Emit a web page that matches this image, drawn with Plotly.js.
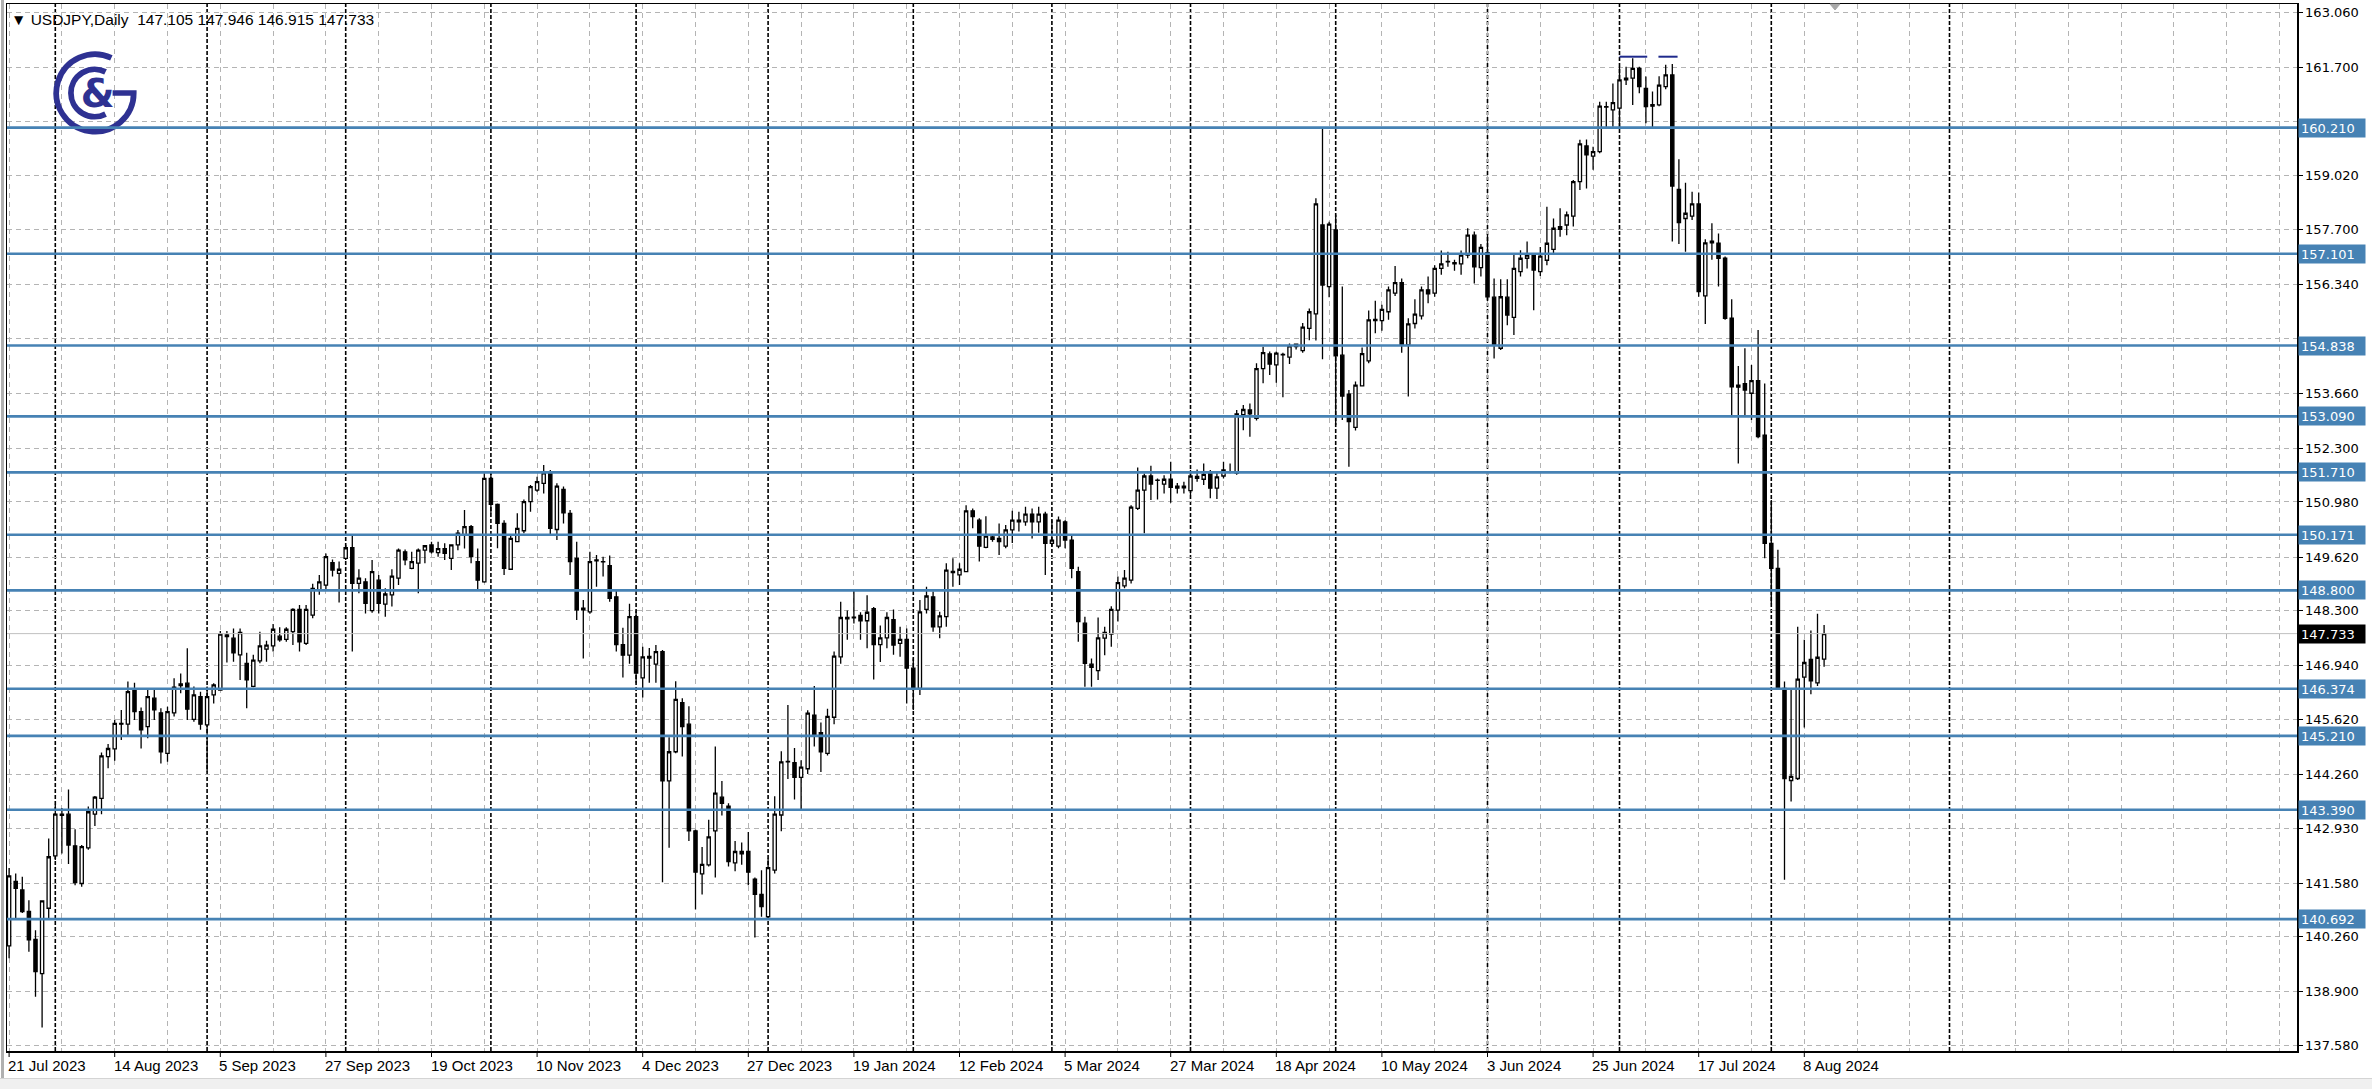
<!DOCTYPE html>
<html><head><meta charset="utf-8">
<script src="https://cdn.plot.ly/plotly-3.0.1.min.js"></script>
<style>
html,body{margin:0;padding:0;background:#fff;overflow:hidden;}
#chart{position:absolute;left:0;top:0;width:2372px;height:1089px;}
#frameL{position:absolute;left:1px;top:0;width:3px;height:1078px;background:#b0b0b0;z-index:5;}
#frameB{position:absolute;left:0;top:1078px;width:2372px;height:11px;background:#f0f0f0;border-top:1px solid #d4d4d4;z-index:5;}
</style></head><body>
<div id="chart"></div><div id="frameL"></div><div id="frameB"></div>
<script>
// ---- DATA ----
const tickLabels = ["21 Jul 2023","14 Aug 2023","5 Sep 2023","27 Sep 2023","19 Oct 2023","10 Nov 2023","4 Dec 2023","27 Dec 2023","19 Jan 2024","12 Feb 2024","5 Mar 2024","27 Mar 2024","18 Apr 2024","10 May 2024","3 Jun 2024","25 Jun 2024","17 Jul 2024","8 Aug 2024"];
const tickBars = [0,16,32,48,64,80,96,112,128,144,160,176,192,208,224,240,256,272];
const monthSepBars = [7,30,51,73,95,115,137,158,179,201,224,244,267,294];

const openP = [140.03,141.62,141.41,140.88,140.19,139.35,140.96,142.25,143.28,143.28,142.50,141.57,142.45,143.28,143.67,144.70,144.89,145.52,145.50,146.34,
145.81,145.44,146.14,145.78,144.78,145.78,146.49,146.51,145.62,146.18,145.48,146.22,146.34,147.70,147.62,147.21,147.00,146.43,147.06,147.35,
147.43,147.67,147.59,147.78,148.33,147.49,148.19,148.81,148.93,149.48,149.22,149.59,149.85,148.97,149.01,148.30,149.05,148.46,148.69,149.10,
149.75,149.34,149.47,149.79,149.92,149.73,149.83,149.59,149.92,150.16,150.37,149.51,149.01,151.56,150.92,150.45,149.32,150.00,150.27,150.99,
151.27,151.44,151.70,150.30,151.29,150.70,149.59,148.32,148.27,149.53,149.51,149.41,148.64,147.46,147.20,148.15,146.64,147.13,146.98,147.29,
144.10,144.82,146.03,145.50,142.87,141.81,142.03,142.87,143.70,143.48,142.08,142.30,142.36,141.68,141.30,140.75,141.90,143.26,144.57,144.55,
144.19,144.40,145.72,145.29,144.78,145.67,147.16,148.13,148.12,148.18,148.05,148.35,147.46,147.63,148.08,147.49,147.59,146.88,146.38,148.33,
148.64,147.90,148.15,149.27,149.18,149.26,150.76,150.53,149.86,150.06,150.08,149.89,150.29,150.49,150.49,150.68,150.49,150.68,149.96,149.89,
150.49,150.04,149.26,147.99,146.98,146.82,147.62,147.72,148.31,148.91,149.05,150.82,151.27,151.62,151.52,151.42,151.54,151.32,151.33,151.26,
151.61,151.54,151.69,151.32,151.62,151.72,151.69,153.13,153.25,153.04,154.27,154.63,154.36,154.61,154.55,154.81,154.71,155.26,155.62,157.81,
156.29,157.69,154.60,153.64,152.82,153.84,154.46,155.48,155.45,155.67,156.13,156.39,154.85,155.38,155.57,156.21,156.13,156.74,156.91,156.88,
156.85,157.07,157.56,156.76,157.13,156.03,154.77,156.03,155.53,156.66,156.99,157.07,156.66,156.94,157.21,157.77,157.81,158.03,158.88,159.76,
159.51,159.62,160.72,160.65,160.69,161.39,161.43,161.67,161.18,160.78,160.77,161.22,161.51,158.69,157.97,158.03,158.33,156.06,157.37,157.36,
156.99,155.51,153.86,153.90,153.66,153.97,152.63,149.96,149.34,146.38,144.11,144.16,146.66,147.10,146.52,147.105];
const highP = [141.95,141.82,141.74,141.16,140.42,141.16,142.68,143.51,143.43,143.89,142.91,142.52,143.47,143.73,144.80,145.01,145.60,145.85,146.55,146.52,
145.91,146.38,146.38,145.89,145.93,146.63,146.75,147.37,146.43,146.30,146.43,146.51,147.80,147.80,147.86,147.86,147.26,147.21,147.78,147.56,
147.97,147.89,147.89,148.36,148.44,148.44,148.96,149.18,149.71,149.56,149.51,149.92,150.16,149.32,149.10,149.55,149.18,148.85,149.32,149.83,
149.81,149.75,149.83,149.92,150.00,150.00,149.96,149.92,150.29,150.78,150.41,149.83,151.69,151.69,150.94,150.53,150.14,150.70,151.04,151.40,
151.60,151.89,151.77,151.44,151.36,150.78,150.00,148.56,149.75,149.67,149.63,149.66,148.81,147.88,148.47,148.30,147.41,147.38,147.45,147.33,
145.18,146.56,146.14,145.94,142.90,142.47,143.14,144.95,144.10,143.55,142.62,142.58,142.84,141.72,141.90,142.19,143.72,144.83,145.97,144.91,
144.61,145.84,146.44,145.54,145.88,147.29,148.52,148.30,148.81,148.26,148.68,148.39,147.93,148.26,148.33,147.90,147.86,147.12,148.56,148.89,
148.77,148.27,149.47,149.59,149.47,150.90,150.82,150.58,150.63,150.19,150.45,150.41,150.76,150.74,150.86,150.82,150.86,150.74,150.53,150.62,
150.53,150.14,149.38,148.15,147.12,148.13,147.90,148.41,149.14,149.30,150.90,151.83,151.68,151.87,151.56,151.64,151.97,151.45,151.48,151.77,
151.78,151.93,151.77,151.73,151.97,151.93,153.25,153.37,153.41,154.40,154.81,154.69,154.69,154.66,154.89,154.89,155.39,155.75,158.47,160.22,
157.89,158.06,156.29,153.74,153.95,154.79,155.70,155.94,155.84,156.29,156.80,156.49,155.51,155.98,156.29,156.54,156.82,157.18,157.15,156.95,
157.18,157.73,157.65,157.34,157.59,156.49,156.47,156.47,157.09,157.19,157.40,157.11,157.27,158.26,157.97,158.22,158.14,158.92,159.91,159.92,
159.74,160.85,160.85,161.30,161.71,161.71,161.92,161.71,161.47,161.10,161.48,161.76,161.78,159.43,158.85,158.63,158.61,157.46,157.85,157.60,
157.03,155.98,154.33,154.77,154.36,155.22,153.90,151.03,149.80,146.55,146.38,147.90,147.58,147.81,148.22,147.946];
const lowP = [139.73,140.71,140.84,139.89,138.78,138.02,140.67,142.15,142.31,142.05,141.53,141.49,142.40,142.99,143.28,144.41,144.60,145.11,145.23,145.60,
144.90,145.15,145.60,144.53,144.57,145.69,146.26,145.60,145.56,145.36,144.33,146.01,146.33,147.02,147.04,146.59,145.89,146.41,147.00,147.04,
147.29,147.53,147.53,147.45,147.29,147.45,148.11,148.69,148.81,149.14,148.50,149.55,147.29,148.73,148.23,148.25,148.23,148.15,148.40,148.93,
149.42,149.32,148.73,149.47,149.71,149.63,149.55,149.30,149.79,149.83,149.47,148.81,148.99,150.70,149.84,149.18,149.30,150.00,150.21,150.74,
151.23,151.19,150.14,150.04,150.45,149.18,148.07,147.12,148.22,148.89,149.14,148.52,147.29,146.65,146.99,146.52,146.16,146.52,146.52,141.60,
142.45,144.78,144.70,142.62,140.93,141.30,141.99,141.72,143.25,141.99,141.87,142.03,141.53,140.24,140.75,140.71,141.82,142.86,144.15,143.64,
143.38,144.27,144.95,144.32,144.73,145.50,146.99,147.58,147.98,147.58,147.37,146.60,147.03,147.37,147.21,147.16,146.01,145.85,146.22,148.23,
147.78,147.62,147.90,148.89,148.93,149.26,150.33,149.51,149.84,150.00,149.67,149.84,149.97,150.25,150.39,150.08,150.22,149.18,149.88,149.84,
149.84,149.10,147.53,146.42,146.42,146.59,147.20,147.41,148.03,148.85,148.97,150.78,150.21,151.03,151.04,151.19,150.96,151.19,151.19,151.15,
151.48,151.40,151.07,151.05,151.56,151.69,151.65,152.75,152.59,152.99,153.91,154.11,153.92,153.56,154.38,154.74,154.66,154.97,154.96,154.50,
156.03,152.88,153.00,151.85,152.74,153.84,154.40,155.14,155.20,155.47,156.06,154.66,153.58,155.26,155.48,155.88,156.04,156.58,156.78,156.68,
156.58,156.99,156.37,156.54,155.96,154.52,154.73,155.34,155.10,156.54,156.74,155.71,156.55,156.82,157.11,157.52,157.56,157.77,158.67,158.71,
159.17,159.58,160.22,160.23,160.19,161.26,160.77,161.06,160.32,160.22,160.74,161.16,157.40,157.34,157.15,157.93,156.04,155.37,156.95,156.29,
155.47,153.08,151.93,153.08,153.00,152.55,149.59,148.48,146.38,141.66,143.59,144.12,145.42,146.24,146.44,146.915];
const closeP = [141.76,141.45,140.88,140.18,139.40,141.14,142.23,143.28,143.25,142.52,141.59,142.48,143.34,143.70,144.72,144.90,145.52,145.50,146.30,145.81,
145.36,146.18,145.85,144.82,145.81,146.41,146.45,145.87,146.22,145.50,146.18,146.47,147.72,147.66,147.26,147.76,146.59,147.08,147.43,147.45,
147.84,147.58,147.84,148.33,147.53,148.33,148.85,149.01,149.63,149.30,149.32,149.85,148.97,149.10,148.48,149.26,148.48,148.71,149.15,149.79,
149.55,149.51,149.79,149.90,149.75,149.83,149.71,149.92,150.21,150.37,149.63,149.05,151.56,150.92,150.45,149.34,150.08,150.33,150.99,151.36,
151.48,151.70,150.33,151.37,150.71,149.51,148.32,148.36,149.51,149.55,149.50,148.60,147.46,147.20,148.15,146.76,147.16,147.17,147.29,144.10,
144.82,146.11,145.44,142.87,141.85,142.04,142.72,143.80,143.55,142.11,142.36,142.36,141.85,141.30,141.00,141.96,143.28,144.57,144.58,144.19,
144.44,145.77,145.25,144.82,145.69,147.18,148.13,148.10,148.14,148.05,148.26,147.46,147.63,148.13,147.45,147.59,146.88,146.38,148.27,148.66,
147.90,148.17,149.30,149.24,149.32,150.76,150.62,149.89,150.14,150.12,150.00,150.29,150.53,150.53,150.68,150.49,150.68,149.96,150.04,150.53,
150.04,149.34,148.03,147.00,146.90,147.63,147.76,148.33,148.99,149.10,150.85,151.27,151.62,151.42,151.51,151.54,151.34,151.37,151.37,151.62,
151.56,151.66,151.32,151.60,151.77,151.73,153.15,153.26,153.15,154.27,154.66,154.38,154.65,154.62,154.83,154.87,155.29,155.67,158.33,156.33,
157.83,154.58,153.59,152.96,153.86,154.64,155.47,155.45,155.73,156.21,156.39,154.85,155.37,155.61,156.21,156.11,156.74,156.85,156.90,156.85,
157.07,157.56,156.78,157.26,156.04,154.85,156.04,155.59,156.74,156.99,157.07,156.70,157.04,157.36,157.73,157.70,158.06,158.88,159.81,159.54,
159.62,160.74,160.73,160.83,161.39,161.43,161.67,161.22,160.73,160.74,161.26,161.51,158.77,157.87,158.10,158.33,156.17,157.37,157.41,156.99,
155.51,153.82,153.81,153.74,153.97,152.59,149.96,149.34,146.41,144.16,144.21,146.61,147.02,146.57,147.15,147.733];

const levels = [160.210,157.101,154.838,153.090,151.710,150.171,148.800,146.374,145.210,143.390,140.692];
// price grid rows; rows whose label is hidden behind a level box in the reference get an empty label
const priceTicks = [163.060,161.700,160.360,159.020,157.700,156.340,155.000,153.660,152.300,150.980,149.620,148.300,146.940,145.620,144.260,142.930,141.580,140.260,138.900,137.580];
const hiddenTicks = [160.360,155.000];
const topMarkLevel = 161.96;
const topMarkSpans = [[244,248.2],[249.9,252.8]];
const symbolTitle = "USDJPY,Daily";

// ---- BUILD ----
const bars = openP.map((_, i) => i);
const last = openP.length - 1;
const lastClose = closeP[last];

const PL = 7, PR = 2297, PT = 4, PB = 1051, W = 2372, H = 1089;
const pw = PR - PL, ph = PB - PT;

const trace = {
  type: 'candlestick', x: bars, open: openP, high: highP, low: lowP, close: closeP,
  increasing: {line: {color: '#000', width: 1.3}, fillcolor: '#ffffff'},
  decreasing: {line: {color: '#000', width: 1.3}, fillcolor: '#000000'},
  whiskerwidth: 0, hoverinfo: 'skip', showlegend: false
};

const shapes = [];
monthSepBars.forEach(b => shapes.push({type:'line', xref:'x', yref:'paper', x0:b, x1:b, y0:0, y1:1, layer:'below',
  line:{color:'#000', width:1.6, dash:'4px,2px'}}));
shapes.push({type:'line', xref:'paper', yref:'y', x0:0, x1:1, y0:lastClose, y1:lastClose, layer:'above', line:{color:'#c0c0c0', width:1}});
levels.forEach(v => shapes.push({type:'line', xref:'paper', yref:'y', x0:0, x1:1, y0:v, y1:v, layer:'above',
  line:{color:'#4682B4', width:2.6}}));
topMarkSpans.forEach(s => shapes.push({type:'line', xref:'x', yref:'y', x0:s[0], x1:s[1], y0:topMarkLevel, y1:topMarkLevel, layer:'above',
  line:{color:'#1f2a8c', width:2}}));
tickBars.forEach(b => shapes.push({type:'line', xref:'x', yref:'paper', ysizemode:'pixel', yanchor:0, x0:b, x1:b, y0:0, y1:-6,
  line:{color:'#000', width:1}}));
// chart-shift marker at the top edge
shapes.push({type:'path', xref:'paper', yref:'paper', xsizemode:'pixel', ysizemode:'pixel', xanchor:(1835-PL)/pw, yanchor:1,
  path:'M-5,0 L5,0 L0,-6 Z', fillcolor:'#a8a8a8', line:{color:'#a8a8a8', width:1}, layer:'above'});

const annotations = [];
tickBars.forEach((b, i) => annotations.push({xref:'x', yref:'paper', x:b, y:0, xanchor:'left', yanchor:'top', xshift:-3, yshift:-4,
  text: tickLabels[i], showarrow:false, font:{family:'Liberation Sans, Arial, sans-serif', size:15, color:'#000'}}));
levels.forEach(v => annotations.push({xref:'paper', yref:'y', x:1, y:v, xanchor:'left', yanchor:'middle', xshift:1,
  text: v.toFixed(3), showarrow:false, bgcolor:'#4682B4', width:62, height:14, borderpad:2, align:'left',
  font:{family:'DejaVu Sans, sans-serif', size:13, color:'#fff'}}));
annotations.push({xref:'paper', yref:'y', x:1, y:lastClose, xanchor:'left', yanchor:'middle', xshift:1,
  text: lastClose.toFixed(3), showarrow:false, bgcolor:'#000', width:62, height:14, borderpad:2, align:'left',
  font:{family:'DejaVu Sans, sans-serif', size:13, color:'#fff'}});
const nb = '\u00A0';
const header = '\u25BC' + nb + symbolTitle + nb+nb + [openP[last], highP[last], lowP[last], closeP[last]].map(v => v.toFixed(3)).join(nb);
annotations.push({xref:'paper', yref:'paper', x:0, y:1, xanchor:'left', yanchor:'top', xshift:2, yshift:-5,
  text: header, showarrow:false, font:{family:'Liberation Sans, Arial, sans-serif', size:15.5, color:'#000'}});

const logoSvg = '<svg xmlns="http://www.w3.org/2000/svg" viewBox="0 0 100 100">' +
  '<g fill="none" stroke="#2e3192" stroke-width="6.5">' +
  '<path d="M68.6,10.1 A44,44 0 1,0 94,50 L70,50"/>' +
  '<path d="M62,26 A27,27 0 1,0 62,74"/></g>' +
  '<text x="53" y="66" font-family="DejaVu Sans, sans-serif" font-size="44" font-weight="bold" fill="#2e3192" text-anchor="middle">&amp;</text></svg>';
const images = [{source:'data:image/svg+xml;charset=utf-8,' + encodeURIComponent(logoSvg), xref:'paper', yref:'paper',
  x:(51-PL)/pw, y:1-(49-PT)/ph, sizex:88/pw, sizey:88/ph, xanchor:'left', yanchor:'top', sizing:'contain', layer:'above'}];

const gridCol = '#b4b4b4';
const layout = {
  width: W, height: H, autosize:false,
  margin: {l:PL, r:W-PR, t:PT, b:H-PB, pad:0},
  paper_bgcolor:'rgba(0,0,0,0)', plot_bgcolor:'#ffffff', showlegend:false,
  xaxis: {range:[(PL-9.1)/6.6, (PR-9.1)/6.6], tickmode:'linear', tick0:0, dtick:8, showgrid:true, gridcolor:gridCol,
    griddash:'5px,4px', gridwidth:1, showticklabels:false, ticks:'', zeroline:false, showline:true, linecolor:'#000',
    linewidth:1.5, mirror:true, rangeslider:{visible:false}, fixedrange:true},
  yaxis: {range:[163.06-(PB-12.1)/40.55, 163.06+(12.1-PT)/40.55], side:'right', tickmode:'array', tickvals:priceTicks,
    ticktext: priceTicks.map(v => hiddenTicks.includes(v) ? '' : v.toFixed(3)), ticks:'outside', ticklen:4, tickcolor:'#000', tickwidth:1,
    tickfont:{family:'DejaVu Sans, sans-serif', size:13, color:'#000'}, showgrid:true, gridcolor:gridCol,
    griddash:'5px,4px', gridwidth:1, zeroline:false, showline:true, linecolor:'#000', linewidth:1.5, mirror:true, fixedrange:true},
  shapes, annotations, images
};
Plotly.newPlot('chart', [trace], layout, {staticPlot:true, displayModeBar:false});
</script>
</body></html>
